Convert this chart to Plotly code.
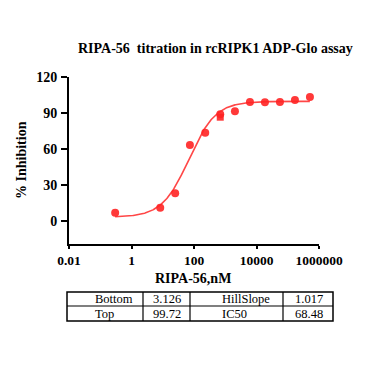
import numpy as np
import plotly.graph_objects as go

# ---- data ----
conc = [0.3, 8.3, 25, 74, 229, 692, 2040, 6170, 18600, 56200, 170000, 513000]
inhibition = [6.9, 11.1, 23.0, 63.3, 73.6, 89.0, 91.4, 99.2, 98.9, 99.2, 100.8, 103.3]
conc_sq = [692]
inhib_sq = [86.5]

bottom, top, ic50, hill = 3.126, 99.72, 68.48, 1.017
table_labels = [["Bottom", "3.126", "HillSlope", "1.017"],
                ["Top", "99.72", "IC50", "68.48"]]
x_tickvals = [0.01, 1, 100, 10000, 1000000]
x_ticktext = ["0.01", "1", "100", "10000", "1000000"]
y_tickvals = [0, 30, 60, 90, 120]

# fitted 4PL curve from the table parameters
xc = np.logspace(np.log10(0.3), np.log10(5.1e5), 300)
yc = bottom + (top - bottom) / (1 + (ic50 / xc) ** hill)

W, H = 370, 370
L, R, T, B = 69, 319, 77, 244  # plot area in pixels


def px(x):
    return (x - L) / (R - L)


def py(y):
    return (B - y) / (B - T)


red = "rgba(255,35,35,0.9)"
fig = go.Figure()
fig.add_trace(go.Scatter(x=xc, y=yc, mode="lines",
                         line=dict(color="rgba(255,50,50,0.9)", width=1.6),
                         hoverinfo="skip", showlegend=False))
fig.add_trace(go.Scatter(x=conc, y=inhibition, mode="markers",
                         marker=dict(color=red, size=8, symbol="circle"),
                         showlegend=False))
fig.add_trace(go.Scatter(x=conc_sq, y=inhib_sq, mode="markers",
                         marker=dict(color=red, size=7, symbol="square"),
                         showlegend=False))

font_b = "Liberation Serif"
fig.update_layout(
    width=W, height=H,
    margin=dict(l=L, r=W - R, t=T, b=H - B, pad=0),
    paper_bgcolor="white", plot_bgcolor="white",
    font=dict(family=font_b, color="black"),
    xaxis=dict(type="log", range=[-2, 6], tickvals=x_tickvals, ticktext=x_ticktext,
               showgrid=False, zeroline=False, showline=True, linecolor="black",
               linewidth=2, ticks="outside", ticklen=3, tickwidth=1.5, tickcolor="black",
               ticklabelstandoff=0,
               tickfont=dict(family=font_b, size=13.5, color="black", weight="bold")),
    yaxis=dict(range=[-19.2, 120], tickvals=y_tickvals, showgrid=False,
               zeroline=False, showline=True, linecolor="black", linewidth=2,
               ticks="outside", ticklen=6, tickwidth=2, tickcolor="black",
               ticklabelstandoff=1,
               tickfont=dict(family=font_b, size=14, color="black", weight="bold")),
)

ann = []
ann.append(dict(text="<b>RIPA-56  titration in rcRIPK1 ADP-Glo assay</b>", x=px(215), y=py(48),
                xref="paper", yref="paper", showarrow=False,
                font=dict(family=font_b, size=14, color="black"), xanchor="center", yanchor="middle"))
ann.append(dict(text="<b>% Inhibition</b>", x=px(21), y=py(160), textangle=-90,
                xref="paper", yref="paper", showarrow=False,
                font=dict(family=font_b, size=14, color="black"), xanchor="center", yanchor="middle"))
ann.append(dict(text="<b>RIPA-56,nM</b>", x=px(193), y=py(278),
                xref="paper", yref="paper", showarrow=False,
                font=dict(family=font_b, size=14, color="black"), xanchor="center", yanchor="middle"))

# table
tx0, tx1, ty0, tym, ty1 = 67, 333, 292, 306, 321
vlines = [143, 190, 283]
shapes = [dict(type="rect", xref="paper", yref="paper", x0=px(tx0), x1=px(tx1), y0=py(ty0), y1=py(ty1),
               line=dict(color="black", width=1.5)),
          dict(type="line", xref="paper", yref="paper", x0=px(tx0), x1=px(tx1), y0=py(tym), y1=py(tym),
               line=dict(color="black", width=1.2))]
for v in vlines:
    shapes.append(dict(type="line", xref="paper", yref="paper", x0=px(v), x1=px(v), y0=py(ty0), y1=py(ty1),
                       line=dict(color="black", width=1.2)))
col_x = [93, 151, 220, 293]
row_y = [299, 314]
for r, row in enumerate(table_labels):
    for c, txt in enumerate(row):
        ann.append(dict(text=txt, x=px(col_x[c]), y=py(row_y[r]), xref="paper", yref="paper",
                        showarrow=False, xanchor="left", yanchor="middle",
                        font=dict(family="Liberation Serif", size=12.5, color="black")))

fig.update_layout(annotations=ann, shapes=shapes)
fig.write_html("out.html")
